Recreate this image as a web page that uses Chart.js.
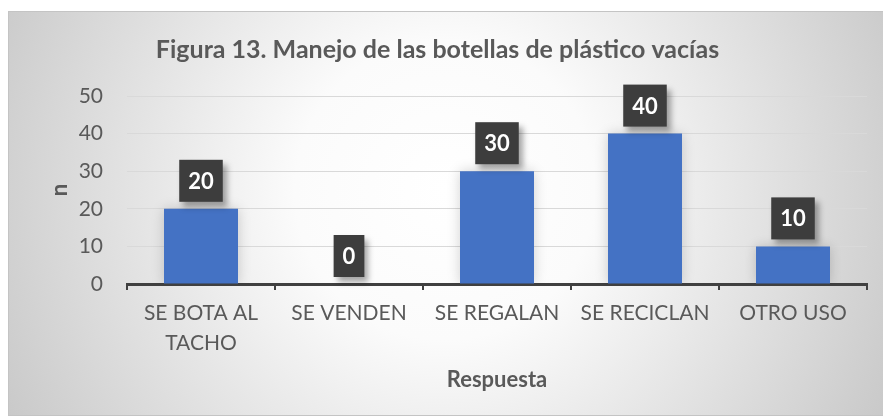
<!DOCTYPE html>
<html>
<head>
<meta charset="utf-8">
<script src="https://cdn.jsdelivr.net/npm/chart.js@4/dist/chart.umd.min.js"></script>
<style>
  body { margin: 0; background: #fff; }
  canvas { display: block; }
</style>
</head>
<body>
<canvas id="chart" width="883" height="419"></canvas>
<script>
// datos
const categorias = [['SE BOTA AL', 'TACHO'], 'SE VENDEN', 'SE REGALAN', 'SE RECICLAN', 'OTRO USO'];
const valores = [20, 0, 30, 40, 10];
const yTicks = [0, 10, 20, 30, 40, 50];

const fuente = "Lato, 'Open Sans', sans-serif";
const gris = '#595959';

// fondo con degradado (marco del grafico)
const fondo = {
  id: 'fondo',
  beforeDraw(chart) {
    const ctx = chart.ctx;
    ctx.save();
    const g = ctx.createRadialGradient(445, 190, 0, 445, 190, 500);
    g.addColorStop(0, '#ffffff');
    g.addColorStop(0.3, '#fbfbfb');
    g.addColorStop(1, '#c8c8c8');
    ctx.fillStyle = g;
    ctx.fillRect(8, 11, 875, 405);
    ctx.strokeStyle = '#c4c4c4';
    ctx.lineWidth = 1;
    ctx.strokeRect(8.5, 11.5, 880, 404);
    ctx.restore();
  }
};

// sombra suave alrededor de las barras
const sombraBarras = {
  id: 'sombraBarras',
  beforeDatasetsDraw(chart) {
    const ctx = chart.ctx;
    ctx.save();
    ctx.shadowColor = 'rgba(0,0,0,0.18)';
    ctx.shadowBlur = 12;
  },
  afterDatasetsDraw(chart) {
    chart.ctx.restore();
  }
};

// etiquetas de datos (cajas oscuras)
const etiquetas = {
  id: 'etiquetas',
  afterDatasetsDraw(chart) {
    const ctx = chart.ctx;
    const meta = chart.getDatasetMeta(0);
    ctx.save();
    ctx.font = "bold 22px " + fuente;
    meta.data.forEach((bar, i) => {
      const txt = String(valores[i]);
      const w = ctx.measureText(txt).width + 18;
      const h = 42;
      const x = bar.x - w / 2;
      const y = bar.y - 7 - h;
      ctx.save();
      ctx.shadowColor = 'rgba(0,0,0,0.35)';
      ctx.shadowBlur = 6;
      ctx.shadowOffsetX = 4;
      ctx.shadowOffsetY = 5;
      ctx.fillStyle = '#3d3d3d';
      ctx.fillRect(x, y, w, h);
      ctx.restore();
      ctx.fillStyle = '#ffffff';
      ctx.textAlign = 'center';
      ctx.textBaseline = 'middle';
      ctx.fillText(txt, bar.x, y + h / 2 + 1);
    });
    ctx.restore();
  }
};

new Chart(document.getElementById('chart'), {
  type: 'bar',
  data: {
    labels: categorias,
    datasets: [{
      data: valores,
      backgroundColor: '#4472C4',
      categoryPercentage: 1,
      barPercentage: 0.5
    }]
  },
  options: {
    responsive: false,
    devicePixelRatio: 1,
    animation: false,
    layout: { padding: { left: 8, top: 11, right: 16, bottom: 3 } },
    plugins: {
      legend: { display: false },
      tooltip: { enabled: false },
      title: {
        display: true,
        text: 'Figura 13. Manejo de las botellas de plástico vacías',
        color: gris,
        font: { family: fuente, size: 25, weight: 'bold', lineHeight: 1.2 },
        padding: { top: 24, bottom: 31 }
      }
    },
    scales: {
      x: {
        afterFit(s) { s.height = 132; },
        grid: { display: true, drawOnChartArea: false, drawTicks: true, tickLength: 6, color: '#404040', lineWidth: 2 },
        border: { display: true, color: '#404040', width: 3 },
        ticks: { color: gris, font: { family: fuente, size: 21, lineHeight: 1.43 }, padding: 8, maxRotation: 0 },
        title: {
          display: true,
          text: 'Respuesta',
          color: gris,
          font: { family: fuente, size: 22, weight: 'bold', lineHeight: 1.2 },
          padding: { bottom: 23 }
        }
      },
      y: {
        min: 0,
        max: 50,
        afterFit(s) { s.width = 119; },
        afterBuildTicks(s) { s.ticks = yTicks.map(v => ({ value: v })); },
        grid: { color: '#d9d9d9', lineWidth: 1, drawTicks: false },
        border: { display: false },
        ticks: { color: gris, font: { family: fuente, size: 21 }, padding: 24 },
        title: {
          display: true,
          text: 'n',
          color: gris,
          font: { family: fuente, size: 22, weight: 'bold', lineHeight: 1.2 },
          padding: { top: 39 }
        }
      }
    }
  },
  plugins: [fondo, sombraBarras, etiquetas]
});
</script>
</body>
</html>
